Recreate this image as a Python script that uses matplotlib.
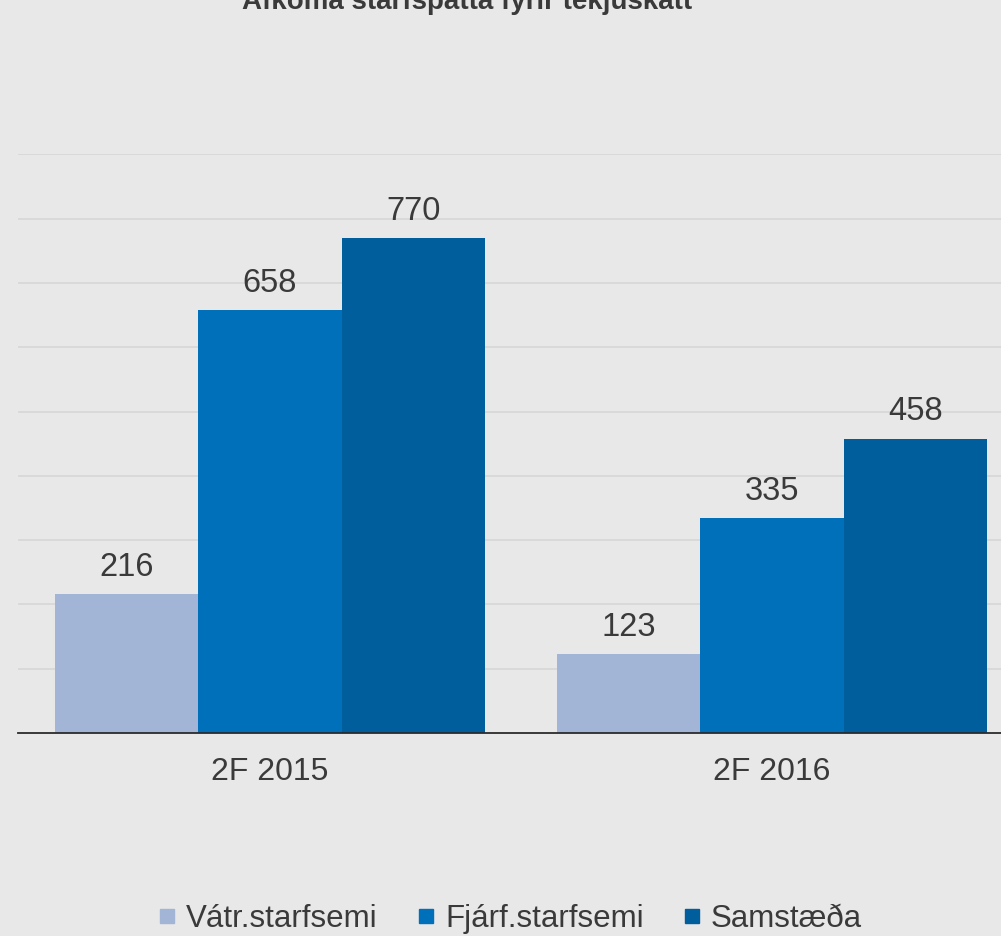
import numpy as np
import matplotlib
matplotlib.use("Agg")
import matplotlib.pyplot as plt
from matplotlib.lines import Line2D

# data
categories = ["2F 2015", "2F 2016"]
series_names = ["Vátr.starfsemi", "Fjárf.starfsemi", "Samstæða"]
vatr = [216, 123]
fjarf = [658, 335]
samst = [770, 458]
colors = ["#A2B5D6", "#0070BB", "#005E9C"]

title = "Afkoma starfsþátta fyrir tekjuskatt"
txt = "#3A3A3A"
bg = "#E8E8E8"

plt.rcParams["font.family"] = ["Liberation Sans", "DejaVu Sans"]

W, H = 1001, 936
fig = plt.figure(figsize=(W / 100, H / 100), dpi=100, facecolor=bg)
ax = fig.add_axes([18 / W, 1 - 733 / H, 1 - 18 / W, (733 - 154.3) / H])
ax.set_facecolor(bg)

x = np.arange(len(categories))
bw = 0.286
for i, (vals, c) in enumerate(zip([vatr, fjarf, samst], colors)):
    bars = ax.bar(x + (i - 1) * bw, vals, bw, color=c, zorder=2, linewidth=0)
    for b, v in zip(bars, vals):
        ax.annotate(f"{v}", (b.get_x() + b.get_width() / 2, v),
                    xytext=(0, 13), textcoords="offset points",
                    ha="center", va="baseline", fontsize=23.5, color=txt)

ax.set_xlim(-0.502, 1.456)
ax.set_ylim(0, 900)
ax.set_yticks(np.arange(100, 901, 100))
ax.yaxis.grid(True, color="#D6D6D6", lw=1.2, zorder=0)
ax.set_yticklabels([])
ax.tick_params(axis="y", length=0)
ax.set_xticks(x)
ax.set_xticklabels(categories, fontsize=23, color=txt)
ax.tick_params(axis="x", length=0, pad=17)
for s in ["top", "right", "left"]:
    ax.spines[s].set_visible(False)
ax.spines["bottom"].set_color("#2B2B2B")
ax.spines["bottom"].set_linewidth(1.3)
ax.spines["bottom"].set_zorder(3)

fig.text(467 / W, 1 - 9 / H, title, ha="center", va="baseline",
         fontsize=20, fontweight="bold", color=txt)

handles = [Line2D([], [], marker="s", ls="", markersize=10, color=c) for c in colors]
fig.legend(handles, series_names, loc="center", bbox_to_anchor=(510 / W, 1 - 919 / H),
           ncol=3, frameon=False, fontsize=22.5, handlelength=0.6, handletextpad=0.3,
           columnspacing=1.25, labelcolor=txt)

fig.savefig("out.png", dpi=100, facecolor=bg)
